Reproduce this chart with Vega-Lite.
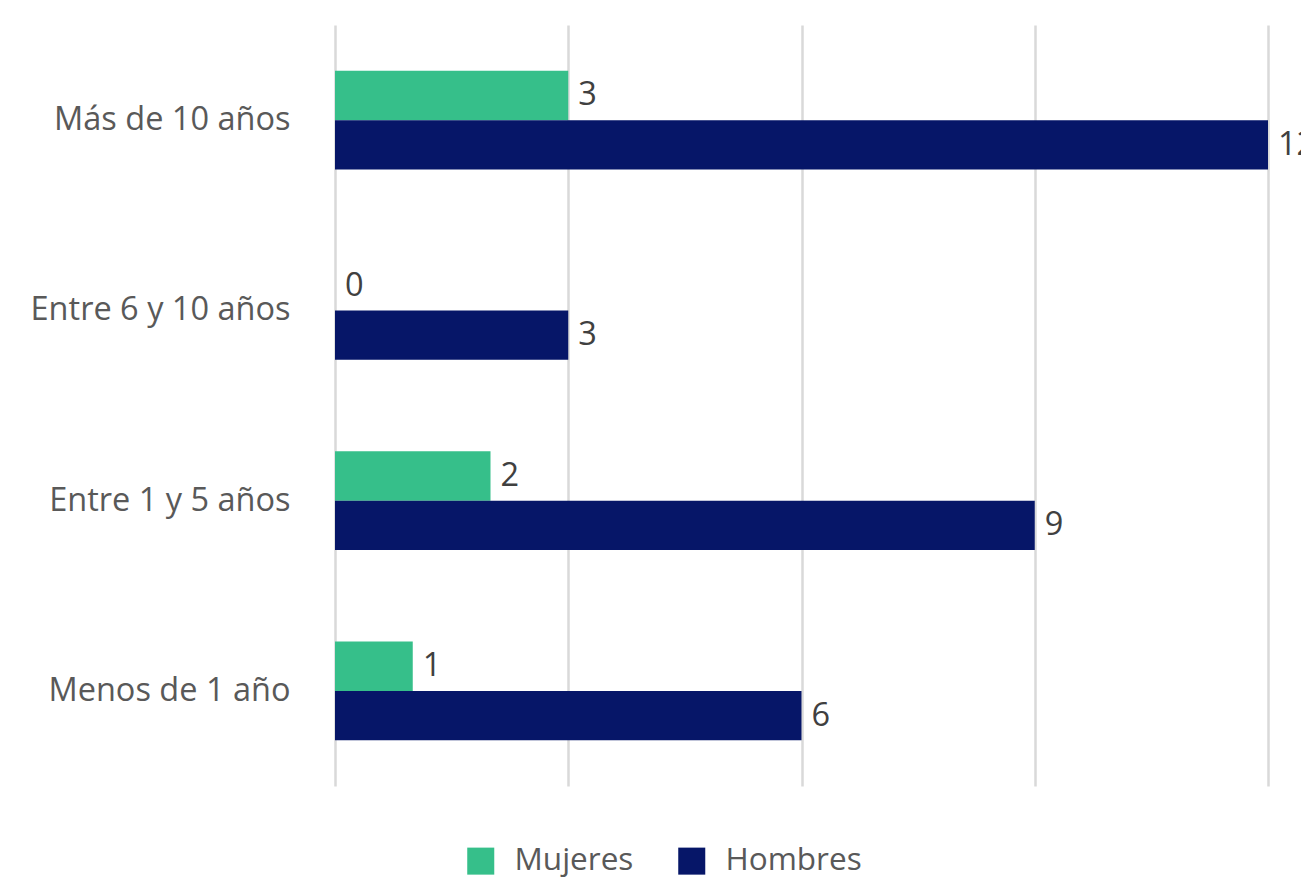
{
  "$schema": "https://vega.github.io/schema/vega-lite/v6.json",
  "autosize": {"type": "none"},
  "width": 933,
  "height": 761,
  "padding": {"left": 335, "top": 25, "right": 33, "bottom": 96},
  "background": "white",
  "config": {
    "view": {"stroke": null},
    "font": "Open Sans"
  },
  "data": {
    "values": [
      {"categoria": "Más de 10 años", "sexo": "Mujeres", "valor": 3},
      {"categoria": "Más de 10 años", "sexo": "Hombres", "valor": 12},
      {"categoria": "Entre 6 y 10 años", "sexo": "Mujeres", "valor": 0},
      {"categoria": "Entre 6 y 10 años", "sexo": "Hombres", "valor": 3},
      {"categoria": "Entre 1 y 5 años", "sexo": "Mujeres", "valor": 2},
      {"categoria": "Entre 1 y 5 años", "sexo": "Hombres", "valor": 9},
      {"categoria": "Menos de 1 año", "sexo": "Mujeres", "valor": 1},
      {"categoria": "Menos de 1 año", "sexo": "Hombres", "valor": 6}
    ]
  },
  "encoding": {
    "y": {
      "field": "categoria",
      "type": "nominal",
      "sort": ["Más de 10 años", "Entre 6 y 10 años", "Entre 1 y 5 años", "Menos de 1 año"],
      "scale": {"paddingInner": 0.48, "paddingOuter": 0.24},
      "axis": {
        "title": null,
        "domain": false,
        "ticks": false,
        "labelPadding": 45,
        "labelFont": "Open Sans",
        "labelFontSize": 32.5,
        "labelColor": "#595959",
        "labelLimit": 400
      }
    },
    "yOffset": {
      "field": "sexo",
      "type": "nominal",
      "sort": ["Mujeres", "Hombres"],
      "scale": {"paddingInner": 0, "paddingOuter": 0}
    },
    "x": {
      "field": "valor",
      "type": "quantitative",
      "scale": {"domain": [0, 12], "nice": false},
      "axis": {
        "title": null,
        "values": [0, 3, 6, 9, 12],
        "labels": false,
        "ticks": false,
        "domain": false,
        "grid": true,
        "gridColor": "#d9d9d9",
        "gridWidth": 2.5
      }
    }
  },
  "layer": [
    {
      "mark": {"type": "bar", "cornerRadius": 0},
      "encoding": {
        "color": {
          "field": "sexo",
          "type": "nominal",
          "sort": ["Mujeres", "Hombres"],
          "scale": {"domain": ["Mujeres", "Hombres"], "range": ["#36BF8A", "#061668"]},
          "legend": {
            "title": null,
            "orient": "none",
            "legendX": 130,
            "legendY": 820,
            "direction": "horizontal",
            "symbolType": "square",
            "symbolSize": 730,
            "symbolStrokeWidth": 0,
            "labelFont": "Open Sans",
            "labelFontSize": 31.5,
            "labelColor": "#595959",
            "labelOffset": 18,
            "columnPadding": 42,
            "labelLimit": 300
          }
        }
      }
    },
    {
      "mark": {
        "type": "text",
        "align": "left",
        "baseline": "middle",
        "dx": 10,
        "font": "Open Sans",
        "fontSize": 32.5,
        "color": "#404040"
      },
      "encoding": {
        "text": {"field": "valor", "type": "quantitative"}
      }
    }
  ]
}
